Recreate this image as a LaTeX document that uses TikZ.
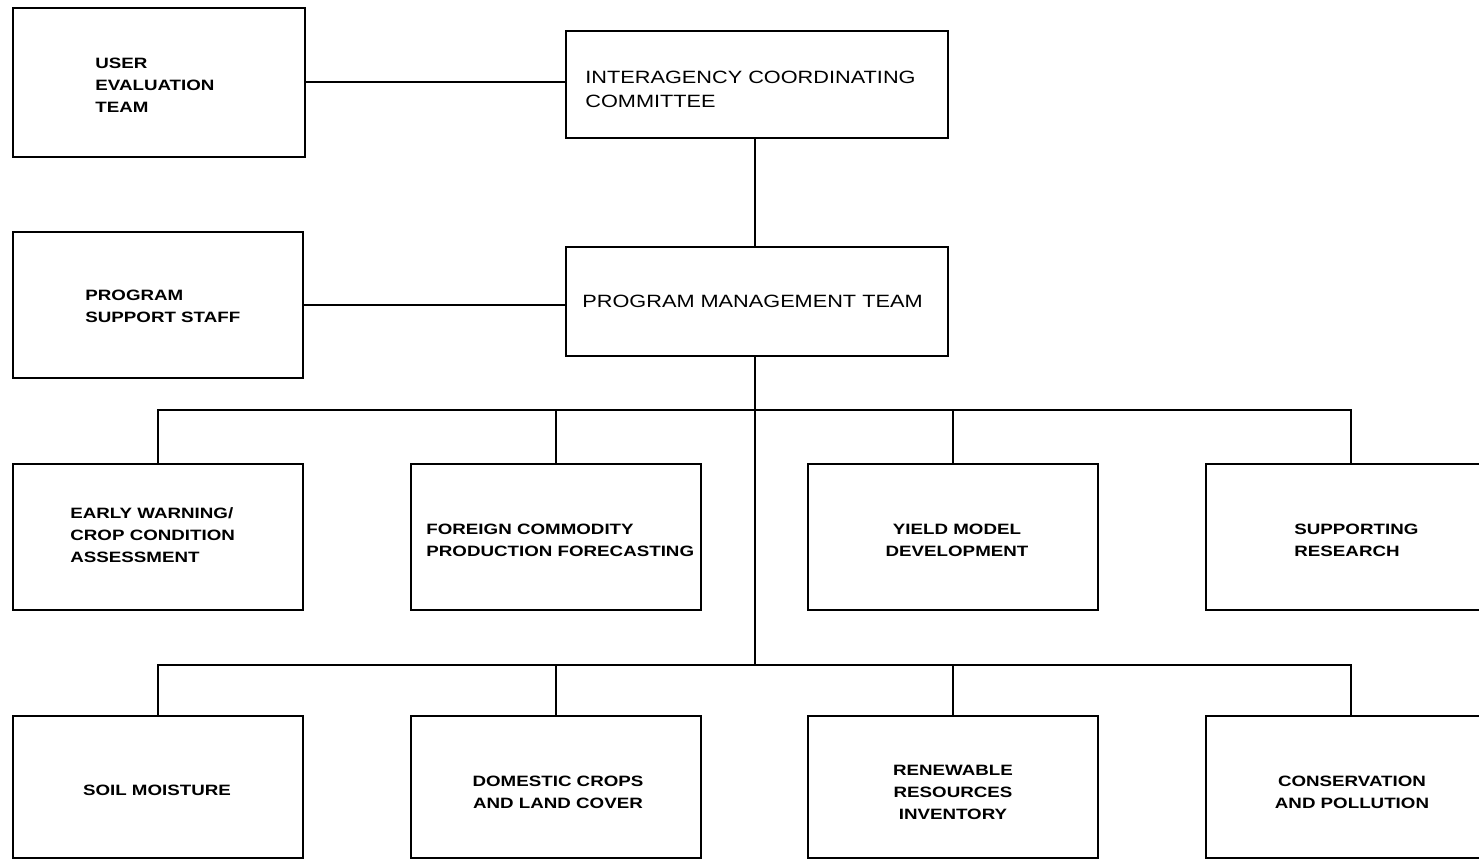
\documentclass[tikz,border=0pt]{standalone}
\usepackage{fontspec}
\setmainfont{Liberation Sans}
\newfontfamily\widefont[FakeStretch=1.25]{Liberation Sans}
\newfontfamily\widefontb[FakeStretch=1.22]{Liberation Sans}
\begin{document}
\begin{tikzpicture}[x={(0.5pt,0)},y={(0,-0.5pt)},
  box/.style={draw,line width=1.4pt,rectangle,inner sep=0pt},
  conn/.style={line width=1pt},
  smalltxt/.style={font=\widefont\bfseries\fontsize{7.5}{11}\selectfont,inner sep=0pt},
  bigtxt/.style={font=\widefontb\fontsize{8.9}{12}\selectfont,inner sep=0pt}]
\useasboundingbox (0,0) rectangle (1479,861);
% top boxes
\node[box,minimum width=146pt,minimum height=74.5pt] (ue) at (159,82.5) {};
\node[box,minimum width=191pt,minimum height=53.5pt] (icc) at (757,84.5) {};
\node[box,minimum width=145pt,minimum height=73pt] (pss) at (158,305) {};
\node[box,minimum width=191pt,minimum height=54.5pt] (pmt) at (757,301.5) {};
% row 1
\node[box,minimum width=145pt,minimum height=73pt] (ra) at (158,537) {};
\node[box,minimum width=145pt,minimum height=73pt] (rb) at (556,537) {};
\node[box,minimum width=145pt,minimum height=73pt] (rc) at (953,537) {};
\node[box,minimum width=145pt,minimum height=73pt] (rd) at (1351,537) {};
% row 2
\node[box,minimum width=145pt,minimum height=71pt] (sa) at (158,787) {};
\node[box,minimum width=145pt,minimum height=71pt] (sb) at (556,787) {};
\node[box,minimum width=145pt,minimum height=71pt] (sc) at (953,787) {};
\node[box,minimum width=145pt,minimum height=71pt] (sd) at (1351,787) {};
% texts
\node[smalltxt,anchor=west,align=left] (tue) at (95,85) {USER\\EVALUATION\\TEAM};
\node[bigtxt,anchor=west,align=left] (ticc) at (585,89) {INTERAGENCY COORDINATING\\COMMITTEE};
\node[smalltxt,anchor=west,align=left] (tpss) at (85,306.5) {PROGRAM\\SUPPORT STAFF};
\node[bigtxt,anchor=west] (tpmt) at (582,301) {PROGRAM MANAGEMENT TEAM};
\node[smalltxt,anchor=west,align=left] (tra) at (70,535) {EARLY WARNING/\\CROP CONDITION\\ASSESSMENT};
\node[smalltxt,anchor=west,align=left] (trb) at (426,540) {FOREIGN COMMODITY\\PRODUCTION FORECASTING};
\node[smalltxt,align=center] (trc) at (957,540) {YIELD MODEL\\DEVELOPMENT};
\node[smalltxt,anchor=west,align=left] (trd) at (1294,540) {SUPPORTING\\RESEARCH};
\node[smalltxt,align=center] (tsa) at (157,790) {SOIL MOISTURE};
\node[smalltxt,align=center] (tsb) at (558,792) {DOMESTIC CROPS\\AND LAND COVER};
\node[smalltxt,align=center] (tsc) at (953,792) {RENEWABLE\\RESOURCES\\INVENTORY};
\node[smalltxt,align=center] (tsd) at (1352,792) {CONSERVATION\\AND POLLUTION};
% connectors
\coordinate (bus1) at (755,410);
\coordinate (bus2) at (755,665);
\draw[conn] (ue.east) -- (ue.east -| icc.west);
\draw[conn] (pss.east) -- (pss.east -| pmt.west);
\draw[conn] (icc.south -| bus1) -- (pmt.north -| bus1);
\draw[conn] (pmt.south -| bus2) -- (bus2);
\draw[conn] (ra.north) |- (bus1) -| (rd.north);
\draw[conn] (rb.north) -- (rb.north |- bus1);
\draw[conn] (rc.north) -- (rc.north |- bus1);
\draw[conn] (sa.north) |- (bus2) -| (sd.north);
\draw[conn] (sb.north) -- (sb.north |- bus2);
\draw[conn] (sc.north) -- (sc.north |- bus2);
\end{tikzpicture}
\end{document}
